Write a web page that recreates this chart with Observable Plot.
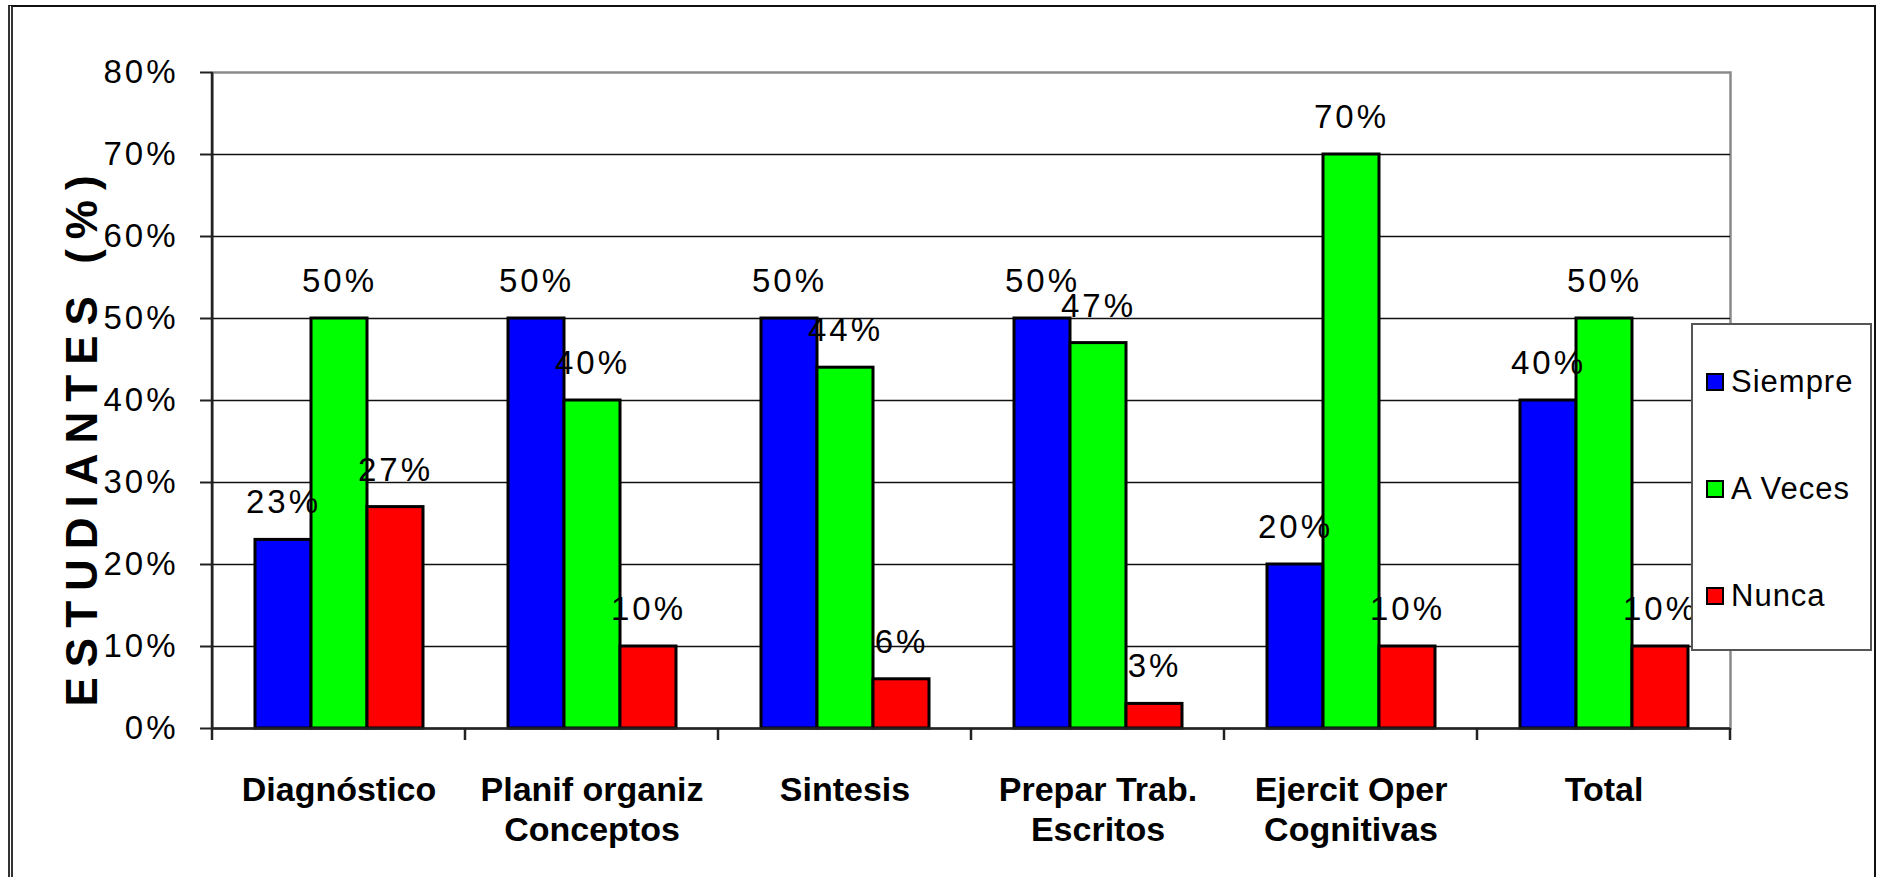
<!DOCTYPE html>
<html><head><meta charset="utf-8">
<script src="https://cdn.jsdelivr.net/npm/d3@7"></script>
<script src="https://cdn.jsdelivr.net/npm/@observablehq/plot@0.6"></script>
<style>
html,body{margin:0;padding:0;background:#fff;}
body{width:1881px;height:877px;overflow:hidden;position:relative;font-family:"Liberation Sans",Arial,sans-serif;}
#chart{position:absolute;left:0;top:0;}
#border{position:absolute;left:8px;top:5px;width:1861px;height:1000px;border-top:2px solid #111;border-right:2px solid #111;border-left:5px double #333;}
#ytitle{position:absolute;left:82px;top:436px;transform:translate(-50%,-50%) rotate(-90deg);font-weight:bold;font-size:44px;letter-spacing:10px;white-space:nowrap;color:#000;}
#legend{position:absolute;left:1691px;top:323px;width:177px;height:320px;border:2px solid #555;background:#fff;display:flex;flex-direction:column;justify-content:space-around;padding-top:4px;box-sizing:content-box;}
.item{display:flex;align-items:center;padding-left:13px;font-size:31px;letter-spacing:1px;color:#000;}
.sw{width:14px;height:14px;border:2.5px solid #000;margin-right:7px;}
#chart svg g[aria-label="y-axis tick label"] text{letter-spacing:3px;}
#chart svg g[aria-label="text"] text{letter-spacing:3px;}
</style></head><body>
<div id="border"></div>
<div id="chart"></div>
<div id="ytitle"></div>
<div id="legend"></div>
<script>
const categories = ["Diagnóstico", "Planif organiz\nConceptos", "Sintesis", "Prepar Trab.\nEscritos", "Ejercit Oper\nCognitivas", "Total"];
const series = ["Siempre", "A Veces", "Nunca"];
const siempre = [23, 50, 50, 50, 20, 40];
const aVeces = [50, 40, 44, 47, 70, 50];
const nunca = [27, 10, 6, 3, 10, 10];
const yTicks = [0, 10, 20, 30, 40, 50, 60, 70, 80];
const colors = ["#0000ff", "#00ff00", "#ff0000"];
const yTitle = "ESTUDIANTES (%)";

const seriesValues = [siempre, aVeces, nunca];
const rows = categories.flatMap((c, i) => series.map((s, j) => ({category: c, series: s, value: seriesValues[j][i]})));

const plot = Plot.plot({
  width: 1881, height: 877,
  marginLeft: 211, marginRight: 151, marginTop: 72, marginBottom: 149,
  style: {fontFamily: '"Liberation Sans", Arial, sans-serif', background: "transparent", overflow: "visible", color: "#000"},
  fx: {domain: categories, padding: 0, label: null},
  x: {domain: series, paddingInner: 0, paddingOuter: 0.75, axis: null},
  y: {domain: [0, 80], label: null},
  color: {domain: series, range: colors},
  marks: [
    Plot.frame({facet: "super", stroke: "#8a8a8a", strokeWidth: 2.5}),
    Plot.gridY(yTicks.filter(t => t > 0 && t < 80), {stroke: "#111", strokeOpacity: 1, strokeWidth: 1.6}),
    Plot.barY(rows, {fx: "category", x: "series", y: "value", fill: "series", stroke: "#000", strokeWidth: 3, inset: 0}),
    Plot.ruleY([0], {stroke: "#222", strokeWidth: 2.5}),
    Plot.axisY({ticks: yTicks, tickFormat: d => d + "%", tickSize: 12, tickPadding: 22, fontSize: 33, label: null, stroke: "#222", strokeWidth: 2}),
    Plot.axisFx({anchor: "bottom", tickSize: 0, tickPadding: 44, fontSize: 34, fontWeight: "bold", lineHeight: 1.18, label: null}),
    Plot.text(rows, {fx: "category", x: "series", y: "value", text: d => d.value + "%", dy: -37, fontSize: 33, lineAnchor: "middle", fill: "#000"})
  ]
});
document.getElementById("chart").appendChild(plot);

// category boundary ticks and left axis line, from Plot's own scales
const fxs = plot.scale("fx"), ys = plot.scale("y");
const y0 = ys.apply(0), yTop = ys.apply(80);
const bounds = categories.map(c => fxs.apply(c)).concat([fxs.apply(categories[categories.length - 1]) + fxs.bandwidth]);
const g = d3.select(plot).append("g").attr("stroke", "#222").attr("stroke-width", 2.5);
g.selectAll("line.tk").data(bounds).join("line").attr("class", "tk")
  .attr("x1", d => d).attr("x2", d => d).attr("y1", y0).attr("y2", y0 + 12);
g.append("line").attr("x1", bounds[0]).attr("x2", bounds[0]).attr("y1", yTop).attr("y2", y0 + 1);

document.getElementById("ytitle").textContent = yTitle;

const lg = d3.select("#legend");
series.forEach((s, i) => {
  const it = lg.append("div").attr("class", "item");
  it.append("div").attr("class", "sw").style("background", colors[i]);
  it.append("span").text(s);
});
</script>
</body></html>
